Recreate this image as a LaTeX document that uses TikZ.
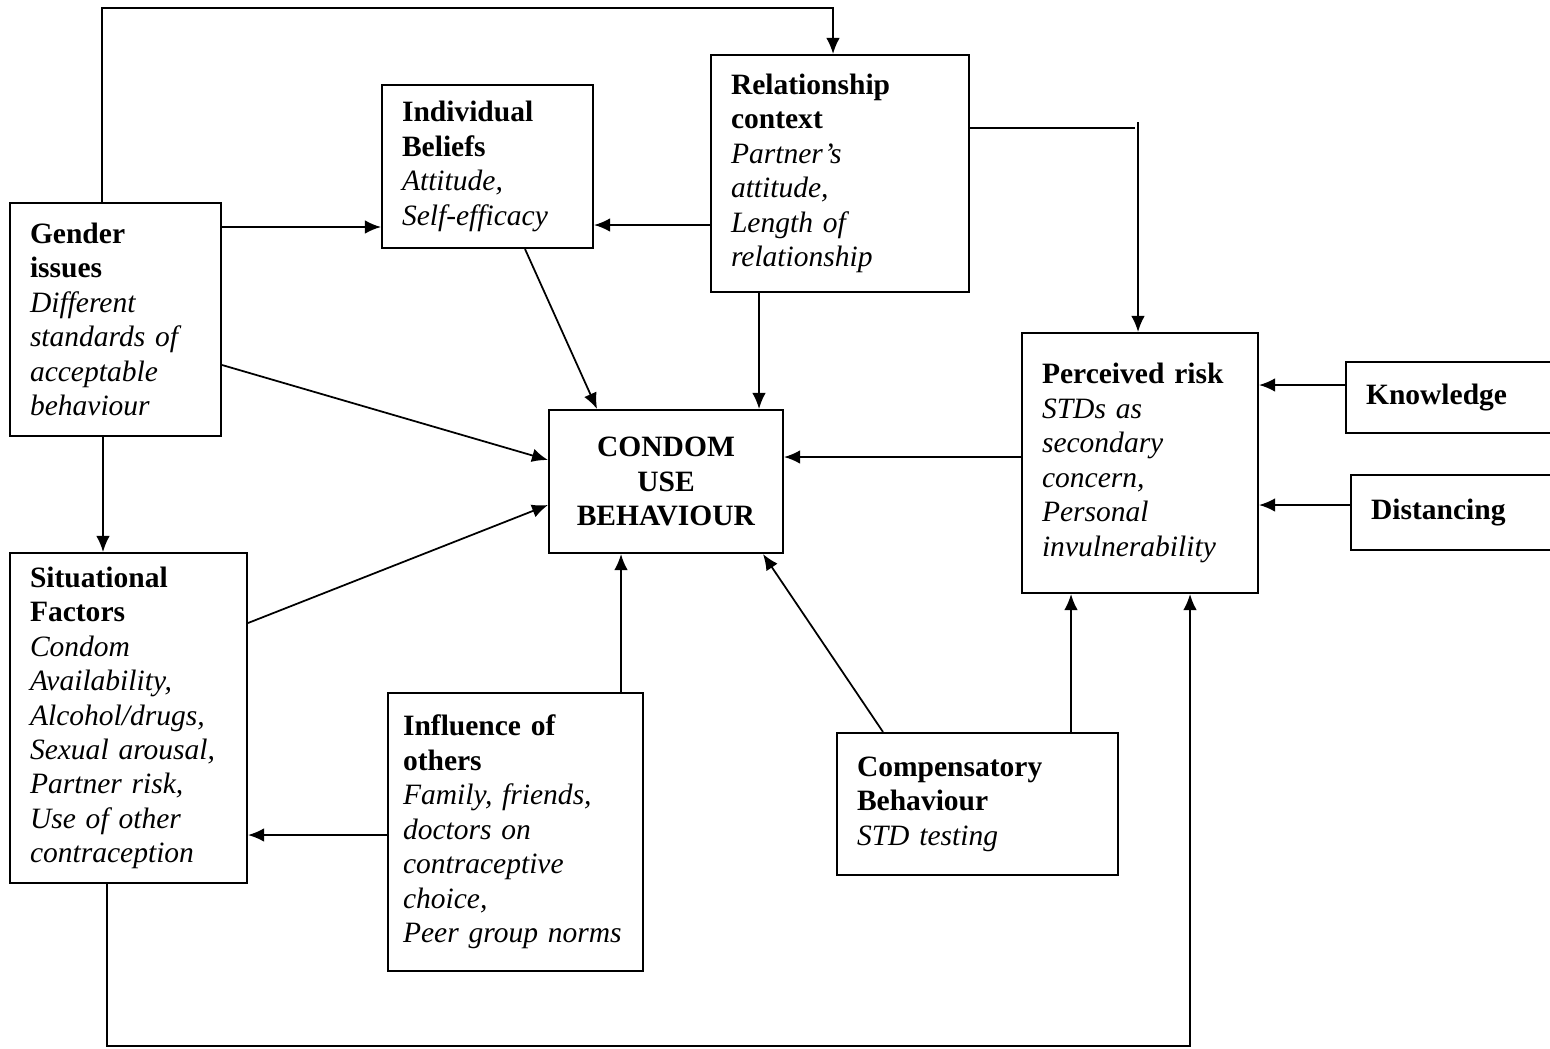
\documentclass[tikz,border=0pt]{standalone}
\usepackage{fontspec}
\setmainfont{Liberation Serif}
\usetikzlibrary{arrows.meta}

\begin{document}
\begin{tikzpicture}[x=0.02cm,y=-0.02cm,
    every node/.style={font=\fontsize{16.8}{19.6}\selectfont},
    factor/.style={draw,line width=1.2pt,align=left,inner xsep=0.4cm,inner ysep=0pt},
    link/.style={-{Latex[length=0.32cm,width=0.27cm]},line width=1pt},
    plain/.style={line width=1pt}]
            \useasboundingbox (0,0) rectangle (1550,1048);

            \node[factor,text width=3.42cm,minimum height=4.66cm] (gender) at (115.5,319.5) {\textbf{Gender}\\\textbf{issues}\\\textit{Different}\\\textit{standards of}\\\textit{acceptable}\\\textit{behaviour}};
            \node[factor,text width=3.42cm,minimum height=3.26cm] (beliefs) at (487.5,166.5) {\textbf{Individual}\\\textbf{Beliefs}\\\textit{Attitude,}\\\textit{Self-efficacy}};
            \node[factor,text width=4.36cm,minimum height=4.74cm] (relation) at (840,173.5) {\textbf{Relationship}\\\textbf{context}\\\textit{Partner's}\\\textit{attitude,}\\\textit{Length of}\\\textit{relationship}};
            \node[factor,text width=3.92cm,minimum height=5.2cm] (risk) at (1140,463) {\textbf{Perceived risk}\\\textit{STDs as}\\\textit{secondary}\\\textit{concern,}\\\textit{Personal}\\\textit{invulnerability}};
            \node[factor,align=center,text width=3.88cm,minimum height=2.86cm] (condom) at (666,481.5) {\textbf{CONDOM}\\\textbf{USE}\\\textbf{BEHAVIOUR}};
            \node[factor,text width=3.94cm,minimum height=6.6cm] (situation) at (128.5,718) {\textbf{Situational}\\\textbf{Factors}\\\textit{Condom}\\\textit{Availability,}\\\textit{Alcohol/drugs,}\\\textit{Sexual arousal,}\\\textit{Partner risk,}\\\textit{Use of other}\\\textit{contraception}};
            \node[factor,inner xsep=0.3cm,text width=4.5cm,minimum height=5.56cm] (others) at (515.5,832) {\textbf{Influence of}\\\textbf{others}\\\textit{Family, friends,}\\\textit{doctors on}\\\textit{contraceptive}\\\textit{choice,}\\\textit{Peer group norms}};
            \node[factor,text width=4.82cm,minimum height=2.84cm] (compens) at (977.5,804) {\textbf{Compensatory}\\\textbf{Behaviour}\\\textit{STD testing}};
            \node[factor,text width=3.48cm,minimum height=1.42cm] (knowledge) at (1453,397.5) {\textbf{Knowledge}};
            \node[factor,text width=3.38cm,minimum height=1.5cm] (distancing) at (1455.5,512.5) {\textbf{Distancing}};

            \draw[link] (gender.east |- 0,227) -- (beliefs.west |- 0,227);
            \draw[link] (relation.west |- 0,225) -- (beliefs.east |- 0,225);
            \draw[link] (beliefs.south -| 525,0) -- (condom.north -| 597,0);
            \draw[link] (relation.south -| 759,0) -- (condom.north -| 759,0);
            \draw[link] (gender.east |- 0,365) -- (condom.west |- 0,460);
            \draw[link] (situation.east |- 0,623) -- (condom.west |- 0,505);
            \draw[link] (gender.south -| 103,0) -- (situation.north -| 103,0);
            \draw[link] (others.north -| 621,0) -- (condom.south -| 621,0);
            \draw[link] (others.west |- 0,835) -- (situation.east |- 0,835);
            \draw[link] (compens.north -| 883,0) -- (condom.south -| 763,0);
            \draw[link] (compens.north -| 1071,0) -- (risk.south -| 1071,0);
            \draw[link] (risk.west |- 0,457) -- (condom.east |- 0,457);
            \draw[link] (knowledge.west |- 0,385) -- (risk.east |- 0,385);
            \draw[link] (distancing.west |- 0,505) -- (risk.east |- 0,505);
            \draw[link] (gender.north -| 102,0) -- (102,8) -- (833,8) -- (relation.north -| 833,0);
            \draw[plain] (relation.east |- 0,128) -- (1135,128);
            \draw[link] (1138,122) -- (risk.north -| 1138,0);
            \draw[link] (situation.south -| 107,0) -- (107,1046) -- (1190,1046) -- (risk.south -| 1190,0);
        \end{tikzpicture}
\end{document}
